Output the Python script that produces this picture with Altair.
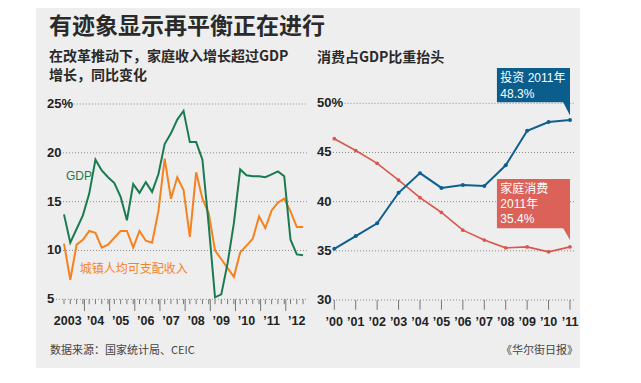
import altair as alt
import pandas as pd

# ---------------- data ----------------
quarters = list(range(39))  # 2003Q1 .. 2012Q3
gdp = [13.7, 10.8, 12.2, 13.6, 15.8, 19.3, 18.2, 17.5, 16.9, 15.5, 13.1, 16.8,
       15.9, 17.0, 16.0, 17.8, 20.9, 22.0, 23.4, 24.3, 21.1, 21.1, 19.3, 12.6,
       5.2, 5.5, 8.7, 12.8, 18.3, 17.7, 17.6, 17.6, 17.5, 17.8, 18.1, 17.6,
       11.1, 9.6, 9.5]
income = [10.7, 7.0, 10.6, 11.1, 12.0, 11.8, 10.3, 10.6, 11.3, 12.0, 12.0, 10.3,
          12.0, 11.0, 10.8, 14.0, 19.4, 15.3, 17.5, 16.2, 11.4, 18.0, 15.3, 13.8,
          10.0, 9.1, 8.2, 7.3, 9.8, 10.5, 11.2, 13.5, 12.3, 14.1, 14.9, 15.3,
          14.0, 12.4, 12.4]
left_year_labels = ["2003", "’04", "’05", "’06", "’07", "’08", "’09", "’10", "’11", "’12"]
left_label_pos = [0.6, 5, 9, 13, 17, 21, 25, 29, 33, 37]
left_y_ticks = [5, 10, 15, 20, 25]
left_y_labels = ["5", "10", "15", "20", "25%"]

years = list(range(2000, 2012))
investment = [35.2, 36.5, 37.8, 40.9, 42.9, 41.4, 41.7, 41.6, 43.7, 47.2, 48.1, 48.3]
consumption = [46.4, 45.2, 43.9, 42.2, 40.4, 38.9, 37.1, 36.1, 35.3, 35.4, 34.9, 35.4]
right_year_labels = ["’00", "’01", "’02", "’03", "’04", "’05", "’06", "’07", "’08", "’09", "’10", "’11"]
right_y_ticks = [30, 35, 40, 45, 50]
right_y_labels = ["30", "35", "40", "45", "50%"]

# ---------------- styling ----------------
GREEN = "#1b7a4f"
ORANGE = "#f5821f"
BLUE = "#0d5f8f"
RED = "#d9574c"
BOXBLUE = "#0b5d8c"
BOXRED = "#da6259"
PANEL = "#eeeeee"
GRID = "#8a8a8a"
AXFONT = "Liberation Sans, Arial, sans-serif"
CJK = "Noto Sans CJK SC, sans-serif"
MIX = "Liberation Sans, Noto Sans CJK SC, sans-serif"

LX = alt.Scale(domain=[0, 38], range=[56, 295.1], nice=False, zero=False)
LY = alt.Scale(domain=[5, 25], range=[291.3, 96], nice=False, zero=False)
RX = alt.Scale(domain=[2000, 2011], range=[326.3, 562], nice=False, zero=False)
RY = alt.Scale(domain=[30, 50], range=[292, 95.3], nice=False, zero=False)

def lx(f="i"):
    return alt.X(f"{f}:Q", scale=LX, axis=None)

def ly(f="v"):
    return alt.Y(f"{f}:Q", scale=LY, axis=None)

def rx(f="yr"):
    return alt.X(f"{f}:Q", scale=RX, axis=None)

def ry(f="v"):
    return alt.Y(f"{f}:Q", scale=RY, axis=None)

one = alt.Data(values=[{}])

# background panel
panel = alt.Chart(one).mark_rect(color=PANEL).encode(
    x=alt.value(28), x2=alt.value(572), y=alt.value(0), y2=alt.value(360))

# ---------------- left chart ----------------
left_df = pd.DataFrame({"i": quarters, "gdp": gdp, "inc": income})

lgrid_df = pd.DataFrame({"v": left_y_ticks,
                         "x0": [-1.75, -0.15, -0.15, -0.15, 0.6],
                         "x1": [38.6] * 5})
lgrid = alt.Chart(lgrid_df).mark_rule(color=GRID, strokeDash=[1, 2], strokeWidth=1).encode(
    x=lx("x0"), x2="x1:Q", y=ly("v"))

lylab_df = pd.DataFrame({"v": left_y_ticks, "t": left_y_labels, "x": [-2.7] * 5})
lylab = alt.Chart(lylab_df).mark_text(align="left", baseline="middle", font=AXFONT,
                                      fontSize=13, fontWeight="bold", color="#222").encode(
    x=lx("x"), y=ly("v"), text="t:N")

ltick_small = alt.Chart(pd.DataFrame({"i": quarters, "a": [5] * 39, "b": [4.5] * 39})).mark_rule(
    color="#777", strokeWidth=1).encode(x=lx("i"), y=ly("a"), y2="b:Q")
big_pos = [3.25 + 4 * k for k in range(9)]
ltick_big = alt.Chart(pd.DataFrame({"i": big_pos, "a": [5] * 9, "b": [3.8] * 9})).mark_rule(
    color="#777", strokeWidth=1).encode(x=lx("i"), y=ly("a"), y2="b:Q")

lxlab_df = pd.DataFrame({"i": left_label_pos, "t": left_year_labels, "v": [2.75] * 10})
lxlab = alt.Chart(lxlab_df).mark_text(align="center", baseline="middle", font=AXFONT,
                                      fontSize=12.5, fontWeight="bold", color="#222").encode(
    x=lx("i"), y=ly("v"), text="t:N")

inc_line = alt.Chart(left_df).mark_line(color=ORANGE, strokeWidth=2).encode(x=lx("i"), y=ly("inc"))
gdp_line = alt.Chart(left_df).mark_line(color=GREEN, strokeWidth=2).encode(x=lx("i"), y=ly("gdp"))

gdp_lab = alt.Chart(pd.DataFrame({"i": [0.3], "v": [17.6], "t": ["GDP"]})).mark_text(
    align="left", baseline="middle", font=MIX, fontSize=12, color=GREEN).encode(
    x=lx("i"), y=ly("v"), text="t:N")
inc_lab = alt.Chart(pd.DataFrame({"i": [2.5], "v": [8.1], "t": ["城镇人均可支配收入"]})).mark_text(
    align="left", baseline="middle", font=CJK, fontSize=12, color=ORANGE).encode(
    x=lx("i"), y=ly("v"), text="t:N")

# ---------------- right chart ----------------
right_df = pd.DataFrame({"yr": years, "inv": investment, "con": consumption})

rgrid_df = pd.DataFrame({"v": right_y_ticks,
                         "x0": [1999.94, 1999.94, 1999.94, 1999.94, 2000.2],
                         "x1": [2011.23] * 5})
rgrid = alt.Chart(rgrid_df).mark_rule(color=GRID, strokeDash=[1, 2], strokeWidth=1).encode(
    x=rx("x0"), x2="x1:Q", y=ry("v"))

rylab_df = pd.DataFrame({"v": right_y_ticks, "t": right_y_labels, "x": [1999.19] * 5})
rylab = alt.Chart(rylab_df).mark_text(align="left", baseline="middle", font=AXFONT,
                                      fontSize=13, fontWeight="bold", color="#222").encode(
    x=rx("x"), y=ry("v"), text="t:N")

rtick = alt.Chart(pd.DataFrame({"yr": years, "a": [30] * 12, "b": [29] * 12})).mark_rule(
    color="#777", strokeWidth=1).encode(x=rx("yr"), y=ry("a"), y2="b:Q")

rxlab_df = pd.DataFrame({"yr": years, "t": right_year_labels, "v": [27.8] * 12})
rxlab = alt.Chart(rxlab_df).mark_text(align="center", baseline="middle", font=AXFONT,
                                      fontSize=12.5, fontWeight="bold", color="#222").encode(
    x=rx("yr"), y=ry("v"), text="t:N")

con_line = alt.Chart(right_df).mark_line(color=RED, strokeWidth=1.6).encode(x=rx("yr"), y=ry("con"))
con_pts = alt.Chart(right_df).mark_circle(color=RED, size=14, opacity=1).encode(x=rx("yr"), y=ry("con"))
inv_line = alt.Chart(right_df).mark_line(color=BLUE, strokeWidth=2).encode(x=rx("yr"), y=ry("inv"))
inv_pts = alt.Chart(right_df).mark_circle(color=BLUE, size=16, opacity=1).encode(x=rx("yr"), y=ry("inv"))

# annotation boxes
blue_box = alt.Chart(pd.DataFrame({"a": [2007.59], "b": [2011.0], "t": [53.6], "u": [50.1]})).mark_rect(
    color=BOXBLUE).encode(x=rx("a"), x2="b:Q", y=ry("t"), y2="u:Q")
blue_ptr = alt.Chart(pd.DataFrame({"yr": [2010.67, 2011.0], "t": [50.15, 50.15], "u": [50.15, 48.75]})).mark_area(
    color=BOXBLUE, opacity=1).encode(x=rx("yr"), y=ry("t"), y2="u:Q")
blue_txt = alt.Chart(pd.DataFrame({"yr": [2007.75, 2007.75], "v": [52.6, 50.95],
                                   "t": ["投资 2011年", "48.3%"]})).mark_text(
    align="left", baseline="middle", font=MIX, fontSize=12, color="white").encode(
    x=rx("yr"), y=ry("v"), text="t:N")

red_box = alt.Chart(pd.DataFrame({"a": [2007.59], "b": [2011.0], "t": [42.3], "u": [37.3]})).mark_rect(
    color=BOXRED).encode(x=rx("a"), x2="b:Q", y=ry("t"), y2="u:Q")
red_ptr = alt.Chart(pd.DataFrame({"yr": [2010.67, 2011.0], "t": [37.35, 37.35], "u": [37.35, 36.1]})).mark_area(
    color=BOXRED, opacity=1).encode(x=rx("yr"), y=ry("t"), y2="u:Q")
red_txt = alt.Chart(pd.DataFrame({"yr": [2007.75] * 3, "v": [41.3, 39.77, 38.23],
                                  "t": ["家庭消费", "2011年", "35.4%"]})).mark_text(
    align="left", baseline="middle", font=MIX, fontSize=12, color="white").encode(
    x=rx("yr"), y=ry("v"), text="t:N")

# ---------------- titles & footer ----------------
def label(text, x, y, size, weight="normal", color="#222", align="left", font=CJK):
    return alt.Chart(one).mark_text(text=text, align=align, baseline="middle", font=font,
                                    fontSize=size, fontWeight=weight, color=color).encode(
        x=alt.value(x), y=alt.value(y))

title = label("有迹象显示再平衡正在进行", 41, 19, 23, "bold", "#2a2a2a")
sub1 = label("在改革推动下，家庭收入增长超过GDP", 41, 48.5, 14, "bold", "#2a2a2a")
sub2 = label("增长，同比变化", 41, 67.5, 14, "bold", "#2a2a2a")
sub3 = label("消费占GDP比重抬头", 309, 50, 14, "bold", "#2a2a2a")
foot1 = label("数据来源：国家统计局、CEIC", 42, 343, 11, "normal", "#444")
foot2 = label("《华尔街日报》", 570, 343, 11, "normal", "#444", align="right")

chart = alt.layer(
    panel,
    lgrid, ltick_small, ltick_big, lylab, lxlab, inc_line, gdp_line, gdp_lab, inc_lab,
    rgrid, rtick, rylab, rxlab, con_line, con_pts, inv_line, inv_pts,
    blue_box, blue_ptr, blue_txt, red_box, red_ptr, red_txt,
    title, sub1, sub2, sub3, foot1, foot2,
).resolve_scale(x="independent", y="independent").properties(
    width=625, height=367, padding=0, autosize=alt.AutoSizeParams(type="none"),
    background="white",
).configure_view(stroke=None)

chart.save("out.html", embed_options={"renderer": "svg", "actions": False})
